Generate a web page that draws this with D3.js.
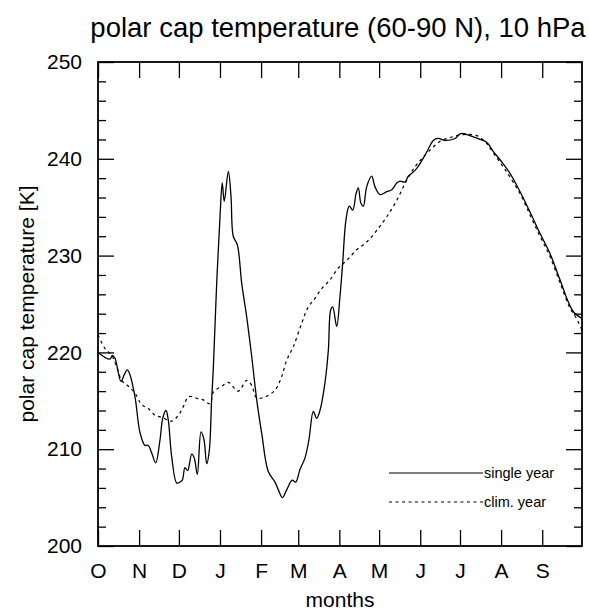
<!DOCTYPE html>
<html>
<head>
<meta charset="utf-8">
<script src="https://cdn.jsdelivr.net/npm/d3@7"></script>
<style>
  body { margin: 0; background: #fff; }
  text { font-family: "Liberation Sans", Arial, Helvetica, sans-serif; fill: #000; }
</style>
</head>
<body>
<svg id="chart" width="589" height="613"></svg>
<script>
// months start at October, x is day of the season (0 = 1 Oct)
const monthStarts = [0, 31, 61, 92, 123, 151, 182, 212, 243, 273, 304, 335];
const monthLabels = ["O", "N", "D", "J", "F", "M", "A", "M", "J", "J", "A", "S"];
const yMajorTicks = [200, 210, 220, 230, 240, 250];

// single year
const singleDays = [0, 9.0, 10.8, 12.8, 17.3, 19.8, 22.1, 24.1, 27.9, 31.7, 35.4, 37.9, 40.5, 43.5,
  46.8, 48.8, 51.3, 53.0, 55.6, 59.4, 61.8, 63.6, 65.6, 67.6, 70.7, 72.6, 74.9, 77.7, 79.9,
  82.0, 83.9, 85.7, 87.0, 89.5, 92.0, 93.7, 95.2, 98.3, 100.3, 102.0, 105.1, 108.4, 112.1,
  115.9, 119.7, 123.5, 128.4, 133.5, 136.0, 139.0, 142.3, 146.5, 149.1, 152.3, 156.1, 159.1,
  162.4, 164.9, 167.4, 171.2, 173.7, 175.5, 177.0, 180.0, 182.5, 184.5, 187.0, 189.5, 192.1,
  194.6, 196.3, 198.3, 200.1, 202.6, 206.4, 208.9, 212.7, 217.7, 221.5, 225.3, 227.8, 231.5,
  234.0, 239.1, 242.8, 247.9, 252.9, 256.6, 261.7, 269.2, 273.5, 280.5, 288.1, 293.1, 297.9,
  303.2, 310.7, 318.3, 325.8, 333.3, 340.9, 348.4, 354.7, 358.5, 365];
const singleTemps = [220.0, 219.3, 219.7, 219.4, 217.0, 217.7, 218.2, 217.7, 215.4, 211.7, 210.4, 210.4, 209.6, 208.6,
  211.0, 213.2, 214.0, 213.0, 209.2, 206.5, 206.6, 206.8, 208.1, 207.8, 209.5, 209.1, 207.4, 211.8, 211.0,
  208.5, 209.8, 215.1, 218.5, 227.1, 234.0, 237.5, 235.6, 238.7, 236.1, 232.0, 231.1, 227.1, 223.7,
  219.6, 215.1, 211.6, 207.7, 206.6, 205.8, 205.0, 205.8, 206.8, 206.6, 207.9, 209.1, 211.0,
  213.9, 213.2, 214.0, 216.9, 220.2, 224.4, 224.7, 222.7, 225.8, 229.2, 233.7, 235.1, 234.7,
  236.4, 237.0, 235.4, 235.1, 237.1, 238.2, 237.1, 236.3, 236.6, 236.8, 237.5, 237.7, 237.6,
  238.2, 238.8, 239.5, 240.7, 241.9, 242.1, 241.9, 242.1, 242.6, 242.4, 242.0, 241.7, 240.8,
  239.9, 238.5, 236.6, 234.5, 232.3, 230.2, 227.5, 225.2, 224.2, 223.5];

// climatological year
const climDays = [0, 5.3, 10.3, 14.1, 17.9, 22.9, 27.9, 33.0, 37.9, 43.0, 48.0, 55.6, 60.6, 64.3,
  68.1, 71.9, 75.6, 79.4, 84.5, 87.0, 93.3, 98.3, 105.8, 112.1, 115.9, 119.7, 125.9, 133.5,
  138.5, 142.3, 147.3, 153.6, 158.6, 163.7, 168.7, 175.0, 181.2, 187.6, 195.1, 202.6, 210.2,
  217.7, 225.3, 232.8, 240.3, 250.4, 257.9, 265.5, 275.5, 285.6, 293.1, 298.1, 306.9, 318.3,
  325.8, 333.3, 340.9, 348.4, 355.9, 360.5, 365];
const climTemps = [221.8, 220.4, 219.7, 218.5, 217.1, 216.5, 215.8, 214.6, 214.2, 213.5, 213.3, 212.9, 213.5, 214.4,
  215.4, 215.4, 215.2, 215.1, 214.7, 215.9, 216.5, 216.9, 216.0, 217.1, 216.6, 215.3, 215.4, 216.1,
  217.5, 219.2, 220.6, 223.0, 224.7, 225.6, 226.6, 227.5, 228.7, 229.5, 230.6, 231.4, 232.6,
  234.0, 235.7, 237.8, 239.4, 240.9, 241.8, 242.2, 242.5, 242.4, 241.6, 240.6, 238.9, 236.4,
  234.2, 232.0, 229.9, 227.2, 224.6, 223.6, 222.3];

const legendLabels = ["single year", "clim. year"];

const svg = d3.select("#chart");
const plotLeft = 98, plotRight = 582, plotTop = 62, plotBottom = 546;

const x = d3.scaleLinear().domain([0, 365]).range([plotLeft, plotRight]);
const y = d3.scaleLinear().domain([200, 250]).range([plotBottom, plotTop]);
const minorTicks = d3.range(200, 251, 2).filter(d => d % 10 !== 0);

// title
svg.append("text")
  .attr("x", 338).attr("y", 37)
  .attr("text-anchor", "middle")
  .style("font-size", "27.5px")
  .text("polar cap temperature (60-90 N), 10 hPa");

// curves
const line = d3.line()
  .x(d => x(d[0]))
  .y(d => y(d[1]))
  .curve(d3.curveCatmullRom.alpha(0.5));

svg.append("path")
  .datum(d3.zip(climDays, climTemps))
  .attr("fill", "none")
  .attr("stroke", "#000")
  .attr("stroke-width", 1.2)
  .attr("stroke-dasharray", "3,3.5")
  .attr("d", line);

svg.append("path")
  .datum(d3.zip(singleDays, singleTemps))
  .attr("fill", "none")
  .attr("stroke", "#000")
  .attr("stroke-width", 1.3)
  .attr("d", line);

// axes, ticks point inwards
function styleAxis(g) {
  g.select(".domain").remove();
  g.selectAll(".tick line").attr("stroke", "#000").attr("stroke-width", 1.3);
  g.selectAll("text").style("font-size", "21px").attr("fill", "#000");
}

svg.append("g")
  .attr("transform", `translate(0,${plotBottom})`)
  .call(d3.axisBottom(x).tickValues(monthStarts)
    .tickFormat((d, i) => monthLabels[i])
    .tickSizeInner(-16).tickSizeOuter(0).tickPadding(17))
  .call(styleAxis);

svg.append("g")
  .attr("transform", `translate(0,${plotTop})`)
  .call(d3.axisTop(x).tickValues(monthStarts).tickFormat("")
    .tickSizeInner(-16).tickSizeOuter(0))
  .call(styleAxis);

svg.append("g")
  .attr("transform", `translate(${plotLeft},0)`)
  .call(d3.axisLeft(y).tickValues(yMajorTicks).tickFormat(d3.format("d"))
    .tickSizeInner(-16).tickSizeOuter(0).tickPadding(16))
  .call(styleAxis);

svg.append("g")
  .attr("transform", `translate(${plotLeft},0)`)
  .call(d3.axisLeft(y).tickValues(minorTicks).tickFormat("")
    .tickSizeInner(-8).tickSizeOuter(0))
  .call(styleAxis);

svg.append("g")
  .attr("transform", `translate(${plotRight},0)`)
  .call(d3.axisRight(y).tickValues(yMajorTicks).tickFormat("")
    .tickSizeInner(-16).tickSizeOuter(0))
  .call(styleAxis);

svg.append("g")
  .attr("transform", `translate(${plotRight},0)`)
  .call(d3.axisRight(y).tickValues(minorTicks).tickFormat("")
    .tickSizeInner(-8).tickSizeOuter(0))
  .call(styleAxis);

// frame
svg.append("rect")
  .attr("x", plotLeft).attr("y", plotTop)
  .attr("width", plotRight - plotLeft).attr("height", plotBottom - plotTop)
  .attr("fill", "none")
  .attr("stroke", "#000")
  .attr("stroke-width", 1.8);

// axis titles
svg.append("text")
  .attr("x", (plotLeft + plotRight) / 2).attr("y", 607)
  .attr("text-anchor", "middle")
  .style("font-size", "21px")
  .text("months");

svg.append("text")
  .attr("transform", `translate(34,${(plotTop + plotBottom) / 2}) rotate(-90)`)
  .attr("text-anchor", "middle")
  .style("font-size", "21px")
  .text("polar cap temperature [K]");

// legend
const legend = svg.append("g");
legendLabels.forEach((label, i) => {
  const ly = 473 + i * 29;
  legend.append("line")
    .attr("x1", 389).attr("x2", 483)
    .attr("y1", ly).attr("y2", ly)
    .attr("stroke", "#000")
    .attr("stroke-width", 1.2)
    .attr("stroke-dasharray", i === 0 ? null : "3,3.5");
  legend.append("text")
    .attr("x", 484).attr("y", ly)
    .attr("dy", "0.35em")
    .style("font-size", "14.5px")
    .text(label);
});
</script>
</body>
</html>
